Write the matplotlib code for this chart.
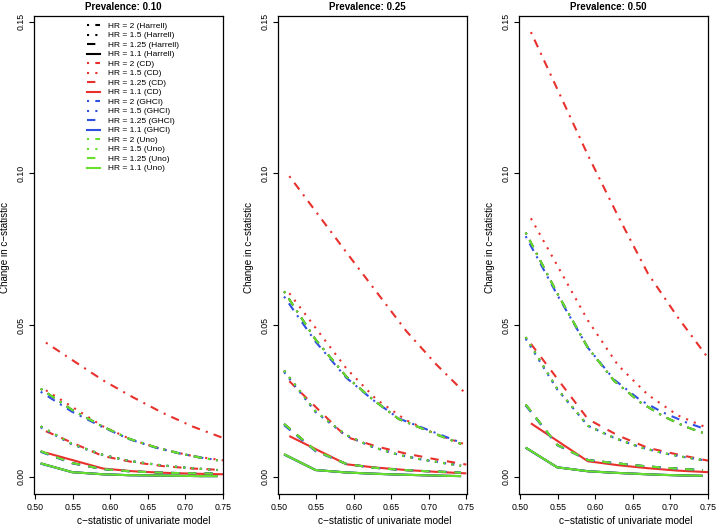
import matplotlib
matplotlib.use("Agg")
import matplotlib.pyplot as plt
from matplotlib.lines import Line2D

plt.rcParams['font.family'] = ['Liberation Sans', 'DejaVu Sans']

# ---------------- data ----------------
prevalences = ["0.10", "0.25", "0.50"]
hr_labels = ["2", "1.5", "1.25", "1.1"]
methods = ["Harrell", "CD", "GHCI", "Uno"]

# x grids (c-statistic of univariate model)
x_cd = [0.514, 0.590, 0.630, 0.670, 0.710, 0.750]
x_other = [0.507, 0.549, 0.590, 0.625, 0.660, 0.690, 0.720, 0.743]

# rows: HR = 2, 1.5, 1.25, 1.1
cd_p10 = [[0.0442, 0.0318, 0.0262, 0.0210, 0.0165, 0.0128],
          [0.0285, 0.0166, 0.0120, 0.0090, 0.0068, 0.0054],
          [0.0150, 0.0068, 0.0048, 0.0035, 0.0027, 0.0022],
          [0.0079, 0.0027, 0.0018, 0.0013, 0.0010, 0.0008]]
ghci_p10 = [[0.0280, 0.0214, 0.0163, 0.0124, 0.0096, 0.0078, 0.0063, 0.0055],
            [0.0163, 0.0106, 0.0071, 0.0052, 0.0040, 0.0032, 0.0026, 0.0022],
            [0.0082, 0.0044, 0.0025, 0.0018, 0.0014, 0.0012, 0.0011, 0.0010],
            [0.0043, 0.0015, 0.0008, 0.0005, 0.0004, 0.0003, 0.0002, 0.0002]]
uno_p10 = [[0.0290, 0.0220, 0.0165, 0.0125, 0.0097, 0.0078, 0.0063, 0.0054],
           [0.0166, 0.0108, 0.0072, 0.0052, 0.0040, 0.0032, 0.0026, 0.0022],
           [0.0084, 0.0045, 0.0025, 0.0018, 0.0014, 0.0012, 0.0011, 0.0010],
           [0.0044, 0.0015, 0.0008, 0.0005, 0.0004, 0.0003, 0.0002, 0.0002]]
harrell_p10 = [[0.0290, 0.0220, 0.0165, 0.0125, 0.0097, 0.0078, 0.0063, 0.0054],
               [0.0166, 0.0108, 0.0072, 0.0052, 0.0040, 0.0032, 0.0026, 0.0022],
               [0.0084, 0.0045, 0.0025, 0.0018, 0.0014, 0.0012, 0.0011, 0.0010],
               [0.0044, 0.0015, 0.0008, 0.0005, 0.0004, 0.0003, 0.0002, 0.0002]]

cd_p25 = [[0.0991, 0.0740, 0.0610, 0.0480, 0.0370, 0.0272],
          [0.0605, 0.0357, 0.0255, 0.0186, 0.0140, 0.0105],
          [0.0315, 0.0131, 0.0100, 0.0076, 0.0057, 0.0040],
          [0.0134, 0.0041, 0.0030, 0.0022, 0.0016, 0.0011]]
ghci_p25 = [[0.0594, 0.0445, 0.0326, 0.0254, 0.0192, 0.0163, 0.0134, 0.0112],
            [0.0345, 0.0213, 0.0135, 0.0098, 0.0072, 0.0057, 0.0045, 0.0037],
            [0.0170, 0.0084, 0.0042, 0.0030, 0.0023, 0.0019, 0.0016, 0.0013],
            [0.0073, 0.0022, 0.0014, 0.0010, 0.0007, 0.0005, 0.0003, 0.0002]]
uno_p25 = [[0.0611, 0.0452, 0.0330, 0.0255, 0.0190, 0.0160, 0.0130, 0.0108],
           [0.0350, 0.0215, 0.0137, 0.0098, 0.0072, 0.0057, 0.0045, 0.0036],
           [0.0174, 0.0086, 0.0042, 0.0030, 0.0023, 0.0019, 0.0016, 0.0013],
           [0.0074, 0.0022, 0.0014, 0.0010, 0.0007, 0.0005, 0.0003, 0.0002]]
harrell_p25 = [[0.0611, 0.0452, 0.0330, 0.0255, 0.0190, 0.0160, 0.0130, 0.0108],
               [0.0350, 0.0215, 0.0137, 0.0098, 0.0072, 0.0057, 0.0045, 0.0036],
               [0.0174, 0.0086, 0.0042, 0.0030, 0.0023, 0.0019, 0.0016, 0.0013],
               [0.0074, 0.0022, 0.0014, 0.0010, 0.0007, 0.0005, 0.0003, 0.0002]]

cd_p50 = [[0.1466, 0.1060, 0.0860, 0.0670, 0.0525, 0.0392],
          [0.0852, 0.0515, 0.0368, 0.0270, 0.0202, 0.0160],
          [0.0438, 0.0190, 0.0136, 0.0095, 0.0073, 0.0053],
          [0.0176, 0.0051, 0.0038, 0.0028, 0.0020, 0.0015]]
ghci_p50 = [[0.0793, 0.0600, 0.0425, 0.0320, 0.0252, 0.0212, 0.0180, 0.0160],
            [0.0455, 0.0288, 0.0168, 0.0128, 0.0097, 0.0078, 0.0064, 0.0055],
            [0.0235, 0.0104, 0.0055, 0.0045, 0.0036, 0.0030, 0.0025, 0.0022],
            [0.0095, 0.0031, 0.0018, 0.0013, 0.0009, 0.0006, 0.0004, 0.0003]]
uno_p50 = [[0.0805, 0.0605, 0.0425, 0.0316, 0.0245, 0.0200, 0.0165, 0.0145],
           [0.0460, 0.0290, 0.0168, 0.0128, 0.0097, 0.0078, 0.0064, 0.0055],
           [0.0238, 0.0105, 0.0055, 0.0045, 0.0036, 0.0030, 0.0025, 0.0022],
           [0.0096, 0.0031, 0.0018, 0.0013, 0.0009, 0.0006, 0.0004, 0.0003]]
harrell_p50 = [[0.0805, 0.0605, 0.0425, 0.0316, 0.0245, 0.0200, 0.0165, 0.0145],
               [0.0460, 0.0290, 0.0168, 0.0128, 0.0097, 0.0078, 0.0064, 0.0055],
               [0.0238, 0.0105, 0.0055, 0.0045, 0.0036, 0.0030, 0.0025, 0.0022],
               [0.0096, 0.0031, 0.0018, 0.0013, 0.0009, 0.0006, 0.0004, 0.0003]]

x_ticks = [0.50, 0.55, 0.60, 0.65, 0.70, 0.75]
y_ticks = [0.00, 0.05, 0.10, 0.15]

# ---------------- styles ----------------
colors = {"Harrell": "black", "CD": "#E8302C", "GHCI": "#2F4FE0", "Uno": "#66E02A"}
styles = [(0, (1, 3, 4, 3)), (0, (1, 3)), (0, (4, 4)), "solid"]
LW = 1.5

panels = [
    {"Harrell": harrell_p10, "CD": cd_p10, "GHCI": ghci_p10, "Uno": uno_p10},
    {"Harrell": harrell_p25, "CD": cd_p25, "GHCI": ghci_p25, "Uno": uno_p25},
    {"Harrell": harrell_p50, "CD": cd_p50, "GHCI": ghci_p50, "Uno": uno_p50},
]

fig = plt.figure(figsize=(7.16, 5.28), dpi=100)
lefts = [34.3 / 716, 277.7 / 716, 519.3 / 716]
width = 189.0 / 716
bottom = 1 - 494.3 / 528
height = (494.3 - 15.7) / 528
xlabel_x = [0.58, 0.565, 0.565]

for i, (prev, data) in enumerate(zip(prevalences, panels)):
    ax = fig.add_axes([lefts[i], bottom, width, height])
    for m in methods:
        xs = x_cd if m == "CD" else x_other
        for j in range(4):
            ax.plot(xs, data[m][j], color=colors[m], linestyle=styles[j], lw=LW,
                    solid_capstyle="butt", dash_capstyle="butt")
    ax.set_xlim(0.4985, 0.7505)
    ax.set_ylim(-0.0058, 0.1520)
    ax.set_xticks(x_ticks)
    ax.set_xticklabels([f"{v:.2f}" for v in x_ticks])
    ax.set_yticks(y_ticks)
    ax.set_yticklabels([f"{v:.2f}" for v in y_ticks], rotation=90, va="center")
    ax.tick_params(axis="both", direction="out", length=3.6, width=0.8,
                   labelsize=6.3, colors="black")
    ax.tick_params(axis="x", pad=2.5)
    ax.tick_params(axis="y", pad=2.5)
    for s in ax.spines.values():
        s.set_linewidth(0.9)
    ax.set_title(f"Prevalence: {prev}", fontsize=7, fontweight="bold", pad=4, x=0.472)
    ax.set_xlabel("c\u2212statistic of univariate model", fontsize=7.3)
    ax.xaxis.label.set_va("center")
    ax.xaxis.set_label_coords(xlabel_x[i], -0.0555)
    ax.set_ylabel("Change in c\u2212statistic", fontsize=7.1)
    ax.yaxis.set_label_coords(-0.128, 0.515)

    if i == 0:
        handles, labels = [], []
        for m in methods:
            for j, hr in enumerate(hr_labels):
                handles.append(Line2D([], [], color=colors[m], linestyle=styles[j], lw=LW))
                labels.append(f"HR = {hr} ({m})")
        ax.legend(handles, labels, loc="upper left", bbox_to_anchor=(0.251, 0.997),
                  frameon=False, fontsize=6.0, handlelength=1.6, handletextpad=0.95,
                  labelspacing=0.2, borderaxespad=0.2)

fig.savefig("out.png", dpi=100)
